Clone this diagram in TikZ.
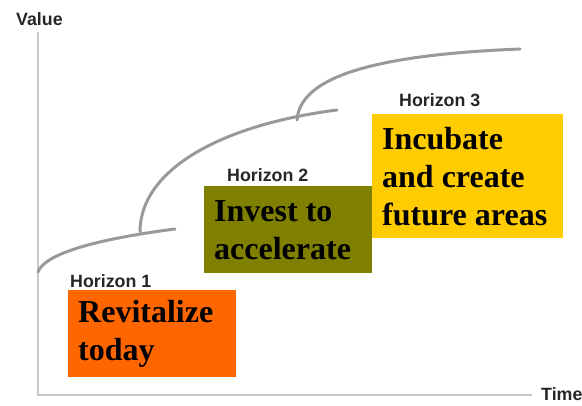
\documentclass[tikz,border=0pt]{standalone}
\usepackage{fontspec}
\setmainfont{Liberation Serif}
\newfontfamily\lblfont{Liberation Sans}
\newcommand\myboxfont{\fontsize{32}{38}\selectfont\bfseries}
\definecolor{hOrange}{HTML}{FF6600}
\definecolor{hOlive}{HTML}{808000}
\definecolor{hYellow}{HTML}{FFCC00}
\definecolor{axisgray}{HTML}{C8C8C8}
\definecolor{curvegray}{HTML}{999999}
\definecolor{lbl}{HTML}{262626}
\begin{document}
\begin{tikzpicture}[x=1pt,y=-1pt,
  hbox/.style={draw=none,anchor=north west,inner xsep=10pt,inner ysep=0pt,align=flush left,
    font=\myboxfont},
  hlabel/.style={anchor=base west,inner sep=0pt,text=lbl,font=\lblfont\bfseries\fontsize{17.8}{20}\selectfont},
  axisline/.style={draw=axisgray,line width=2.2pt},
  hcurve/.style={draw=curvegray,line width=3pt,line cap=round}]
\useasboundingbox (0,0) rectangle (582,406);
% axes
\draw[axisline] (38,32) -- (38,395) -- (532,395);
\node[hlabel] (value) at (16,26) {Value};
\node[hlabel] (time) at (541,401) {Time};
% curves
\draw[hcurve] (38,272) .. controls (44,255) and (90,240) .. (175,229);
\draw[hcurve] (140,232) .. controls (140,170) and (220,125) .. (337,110);
\draw[hcurve] (297,120) .. controls (300,78) and (370,55) .. (520,49);
% labels
\node[hlabel] (h1) at (70,288) {Horizon 1};
\node[hlabel] (h2) at (227,182) {Horizon 2};
\node[hlabel] (h3) at (399,107) {Horizon 3};
% boxes
\node[hbox,fill=hOrange,text width=148pt,minimum height=87pt] (b1) at (68,290) {Revitalize\\today};
\node[hbox,fill=hOlive,text width=148pt,minimum height=87pt] (b2) at (204,186) {Invest to\\accelerate};
\node[hbox,fill=hYellow,text width=171pt,minimum height=124pt] (b3) at (372,114) {Incubate\\and create\\future areas};
\end{tikzpicture}
\end{document}
